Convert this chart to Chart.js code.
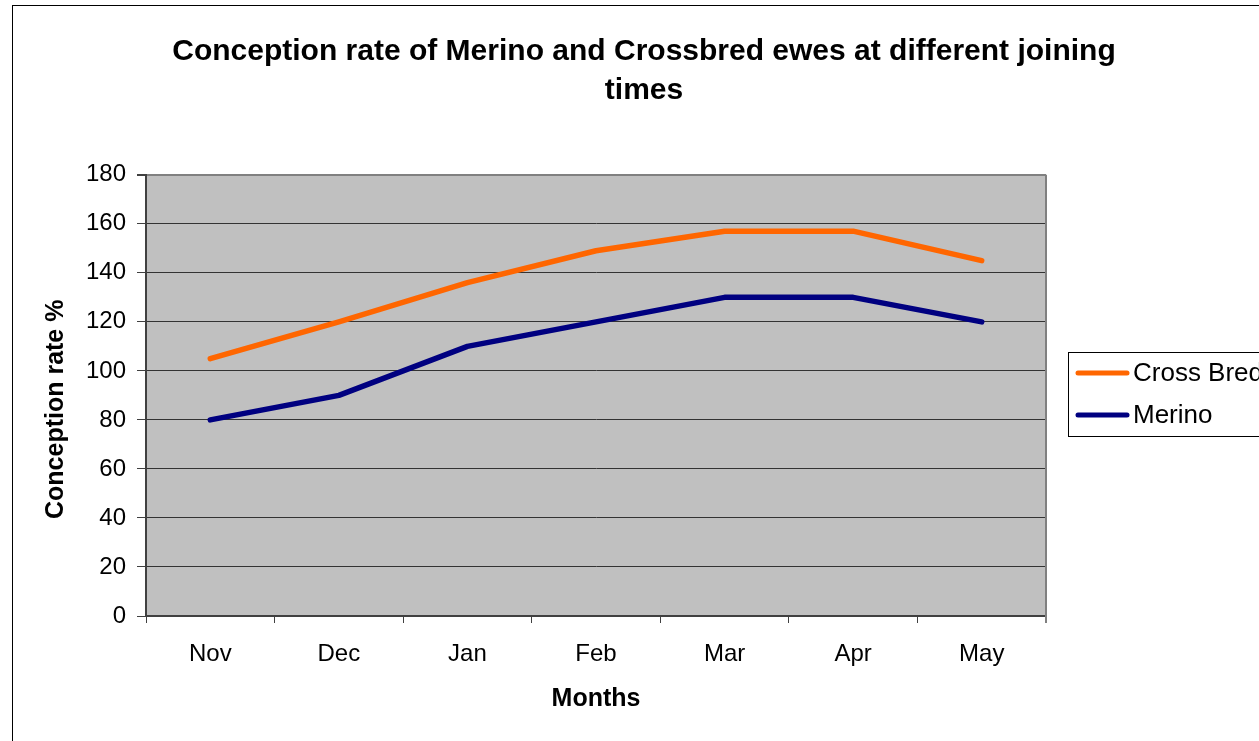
<!DOCTYPE html>
<html>
<head>
<meta charset="utf-8">
<title>Conception rate of Merino and Crossbred ewes</title>
<script src="https://cdn.jsdelivr.net/npm/chart.js@4"></script>
<style>
  html, body { margin: 0; padding: 0; background: #fff; overflow: hidden; }
  #chart { position: absolute; left: 0; top: 0; }
</style>
</head>
<body>
<canvas id="chart" width="1288" height="741"></canvas>
<script>
// data - conception rate (%) by joining month
const months = ['Nov', 'Dec', 'Jan', 'Feb', 'Mar', 'Apr', 'May'];
const crossBred = [105, 120, 136, 149, 157, 157, 145];
const merino = [80, 90, 110, 120, 130, 130, 120];
const yTicks = {min: 0, max: 180, step: 20};

const FONT = 'Arial, "Liberation Sans", sans-serif';
const NBSP = '\u00a0';

// grey plot background + outer frame
const plotFrame = {
  id: 'plotFrame',
  beforeDraw(chart) {
    const {ctx, chartArea: a} = chart;
    ctx.save();
    ctx.fillStyle = '#fff';
    ctx.fillRect(0, 0, chart.width, chart.height);
    ctx.strokeStyle = '#000';
    ctx.lineWidth = 1;
    ctx.strokeRect(12.5, 5.5, chart.width + 20, chart.height + 20);
    ctx.fillStyle = '#c0c0c0';
    ctx.fillRect(a.left, a.top, a.right - a.left, a.bottom - a.top);
    ctx.restore();
  },
  beforeDatasetsDraw(chart) {
    const {ctx, chartArea: a} = chart;
    ctx.save();
    ctx.strokeStyle = '#808080';
    ctx.lineWidth = 2;
    ctx.beginPath();
    ctx.moveTo(a.right, a.top);
    ctx.lineTo(a.right, a.bottom + 7);
    ctx.stroke();
    ctx.restore();
  }
};

// boxed legend to the right of the plot
const boxLegend = {
  id: 'boxLegend',
  afterDraw(chart) {
    const {ctx} = chart;
    const left = 1068, top = 352, bottom = 436, right = 1274;
    ctx.save();
    ctx.strokeStyle = '#000';
    ctx.lineWidth = 1;
    ctx.strokeRect(left + 0.5, top + 0.5, right - left, bottom - top);
    const rows = [373, 415];
    chart.data.datasets.forEach((ds, i) => {
      const y = rows[i];
      ctx.strokeStyle = ds.borderColor;
      ctx.lineWidth = 5;
      ctx.lineCap = 'round';
      ctx.beginPath();
      ctx.moveTo(1078, y);
      ctx.lineTo(1127, y);
      ctx.stroke();
      ctx.fillStyle = '#000';
      ctx.font = '26px ' + FONT;
      ctx.textBaseline = 'middle';
      ctx.textAlign = 'left';
      ctx.fillText(ds.label, 1133, y + 1);
    });
    ctx.restore();
  }
};

new Chart(document.getElementById('chart'), {
  type: 'line',
  data: {
    labels: months,
    datasets: [
      {label: 'Cross Bred', data: crossBred, borderColor: '#ff6600', backgroundColor: '#ff6600'},
      {label: 'Merino', data: merino, borderColor: '#000080', backgroundColor: '#000080'}
    ]
  },
  options: {
    responsive: false,
    animation: false,
    devicePixelRatio: 1,
    layout: {padding: 0},
    elements: {
      line: {borderWidth: 5.5, tension: 0, borderCapStyle: 'round', borderJoinStyle: 'round'},
      point: {radius: 0, hoverRadius: 0}
    },
    plugins: {
      legend: {display: false},
      tooltip: {enabled: false},
      title: {
        display: true,
        text: ['Conception rate of Merino and Crossbred ewes at different joining', 'times'],
        color: '#000',
        font: {family: FONT, size: 30, weight: 'bold', lineHeight: 1.28},
        padding: {top: 33, bottom: 65}
      }
    },
    scales: {
      x: {
        offset: true,
        grid: {offset: true, drawOnChartArea: false, drawTicks: true, tickLength: 7, color: '#404040'},
        border: {color: '#404040', width: 2},
        ticks: {color: '#000', font: {family: FONT, size: 24}, padding: 17, maxRotation: 0},
        title: {display: true, text: 'Months', color: '#000', font: {family: FONT, size: 25, weight: 'bold'}, padding: {top: 0, bottom: 27}},
        afterFit(scale) { scale.height = 125; }
      },
      y: {
        min: yTicks.min,
        max: yTicks.max,
        grid: {
          color: c => c.tick && c.tick.value === yTicks.max ? '#808080' : '#333',
          lineWidth: c => c.tick && c.tick.value === yTicks.max ? 2 : 1,
          tickColor: '#404040',
          tickLength: 9
        },
        border: {color: '#404040', width: 2},
        ticks: {stepSize: yTicks.step, color: '#000', font: {family: FONT, size: 24}, padding: 11},
        title: {display: true, text: 'Conception rate %' + NBSP.repeat(4), color: '#000', font: {family: FONT, size: 25, weight: 'bold'}, padding: {top: 41, bottom: 0}},
        afterFit(scale) { scale.width = 146; }
      },
      // empty right-hand axis that reserves room for the legend
      side: {
        position: 'right',
        min: 0,
        max: 1,
        grid: {display: false},
        border: {display: false},
        ticks: {display: false},
        afterFit(scale) { scale.width = 242; }
      }
    }
  },
  plugins: [plotFrame, boxLegend]
});
</script>
</body>
</html>
